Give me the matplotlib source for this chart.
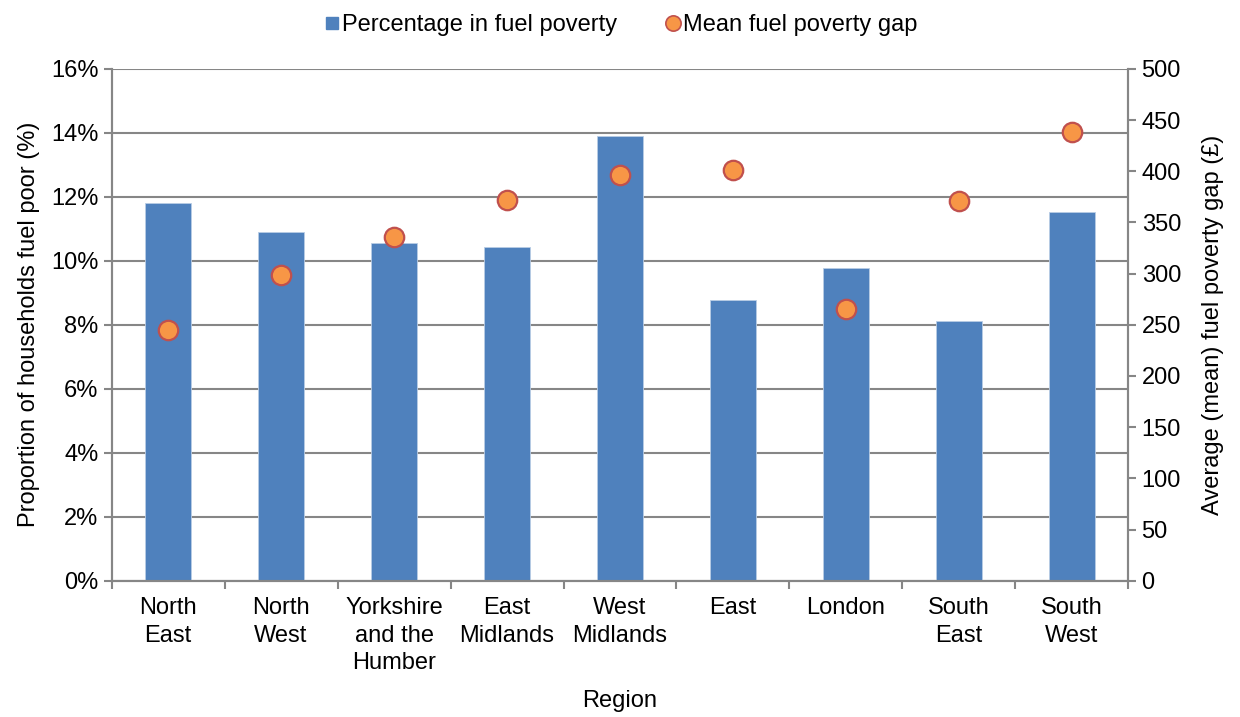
import numpy as np
import matplotlib
matplotlib.use('Agg')
import matplotlib.pyplot as plt
from matplotlib.ticker import FuncFormatter
from matplotlib.lines import Line2D

plt.rcParams['font.family'] = ['Liberation Sans', 'DejaVu Sans']

regions = ['North\nEast', 'North\nWest', 'Yorkshire\nand the\nHumber', 'East\nMidlands',
           'West\nMidlands', 'East', 'London', 'South\nEast', 'South\nWest']
pct_fuel_poor = [11.8, 10.9, 10.55, 10.42, 13.9, 8.76, 9.79, 8.12, 11.54]
mean_gap = [245, 299, 336, 372, 396, 401, 265, 371, 438]

grey = '#868686'
fs = 17
x = np.arange(len(regions))

fig = plt.figure(figsize=(12.4, 7.17), dpi=100)
ax = fig.add_axes([0.09, 0.19, 0.82, 0.714])
ax2 = ax.twinx()

ax.bar(x, pct_fuel_poor, width=0.4, color='#4F81BD', edgecolor='#B9CDE5', linewidth=0.6, zorder=2)
ax2.plot(x, mean_gap, 'o', markersize=14, markerfacecolor='#F79646',
         markeredgecolor='#C0504D', markeredgewidth=1.6, zorder=3)

ax.set_xlim(-0.5, len(regions) - 0.5)
ax.set_ylim(0, 16)
ax.set_yticks(np.arange(0, 17, 2))
ax.yaxis.set_major_formatter(FuncFormatter(lambda v, p: '%d%%' % v))
ax2.set_ylim(0, 500)
ax2.set_yticks(np.arange(0, 501, 50))

ax.yaxis.grid(True, color=grey, linewidth=1.5)
ax.set_axisbelow(True)

# category labels centered, tick marks on boundaries
ax.set_xticks(x)
ax.set_xticklabels(regions, fontsize=fs, linespacing=1.3)
ax.tick_params(axis='x', length=0, pad=12)
ax.set_xticks(np.arange(-0.5, len(regions), 1), minor=True)
ax.tick_params(axis='x', which='minor', length=6, color=grey, width=1.5)

ax.tick_params(axis='y', labelsize=fs, length=6, color=grey, width=1.5)
ax2.tick_params(axis='y', labelsize=fs, length=6, color=grey, width=1.5)

for a in (ax, ax2):
    a.spines['top'].set_visible(False)
    for s in ('left', 'right', 'bottom'):
        a.spines[s].set_color(grey)
        a.spines[s].set_linewidth(1.5)

ax.set_ylabel('Proportion of households fuel poor (%)', fontsize=fs, labelpad=8)
ax2.set_ylabel('Average (mean) fuel poverty gap (£)', fontsize=fs, labelpad=15)
ax.set_xlabel('Region', fontsize=fs, labelpad=12)

handles = [Line2D([], [], marker='s', linestyle='none', markersize=9, color='#4F81BD'),
           Line2D([], [], marker='o', linestyle='none', markersize=11, markerfacecolor='#F79646',
                  markeredgecolor='#C0504D', markeredgewidth=1.2)]
fig.legend(handles, ['Percentage in fuel poverty', 'Mean fuel poverty gap'],
           loc='upper center', bbox_to_anchor=(0.5, 1.01), ncol=2, frameon=False,
           fontsize=fs, handletextpad=0.0, handlelength=0.8, columnspacing=2.0)

fig.savefig('out.png', dpi=100)
